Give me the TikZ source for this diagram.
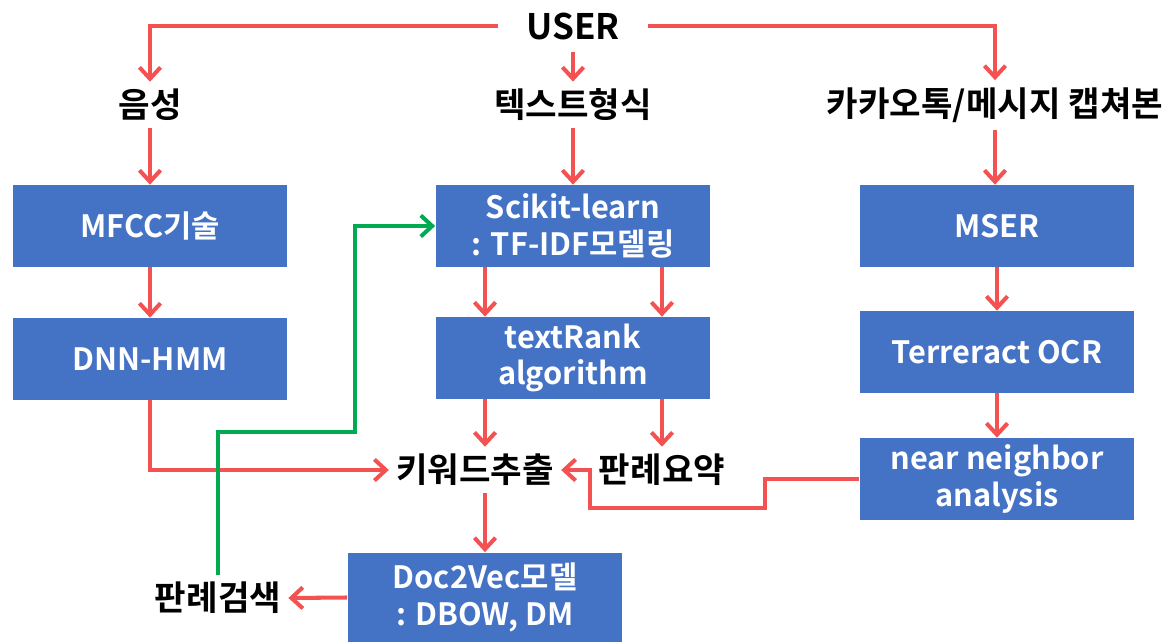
\documentclass[tikz,border=0pt]{standalone}
\usepackage{fontspec}
\setmainfont{Noto Sans CJK KR}[BoldFont={Noto Sans CJK KR Bold}]
\usetikzlibrary{arrows.meta}
\definecolor{boxblue}{RGB}{68,114,196}
\definecolor{flowred}{RGB}{244,82,82}
\definecolor{flowgreen}{RGB}{0,170,80}
\tikzset{
	stage/.style={fill=boxblue, text=white, font=\bfseries\fontsize{17.5}{21}\selectfont, minimum width=5.5cm, minimum height=1.64cm, align=center, inner sep=0pt},
	tag/.style={font=\bfseries\fontsize{19.5}{22}\selectfont, inner sep=4pt},
	flow/.style={draw=flowred, line width=2.3pt, -{Straight Barb[length=6.5pt,width=12pt]}},
	back/.style={flow, draw=flowgreen},
}
\begin{document}
\begin{tikzpicture}[x=0.02cm, y=-0.02cm]
	\useasboundingbox (0,0) rectangle (1174,642);
	\node[tag, font=\bfseries\fontsize{20}{24}\selectfont, inner xsep=0.55cm, inner ysep=0.25cm] (user) at (573,26) {USER};
	\node[tag] (voice) at (150,105) {음성};
	\node[tag] (text) at (573,105) {텍스트형식};
	\node[tag] (capture) at (995,105) {카카오톡/메시지 캡쳐본};
	\node[stage] (mfcc) at (150,226) {MFCC기술};
	\node[stage] (scikit) at (573,226) {Scikit-learn\\: TF-IDF모델링};
	\node[stage] (mser) at (997,226) {MSER};
	\node[stage] (dnn) at (150,359) {DNN-HMM};
	\node[stage] (textrank) at (573,358) {textRank\\algorithm};
	\node[stage] (ocr) at (997,352) {Terreract OCR};
	\node[stage] (nn) at (997,479) {near neighbor\\analysis};
	\node[tag] (keyword) at (475,470) {키워드추출};
	\node[tag] (summary) at (662,470) {판례요약};
	\node[stage, minimum height=1.8cm] (doc2vec) at (485,597.5) {Doc2Vec모델\\: DBOW, DM};
	\node[tag] (search) at (218,598) {판례검색};
	\coordinate (bendA) at (765,508);
	\coordinate (bendB) at (590,508);
	\coordinate (bendC) at (355,432);

	\draw[flow] (user.west) -| (voice.north);
	\draw[flow] (user.east) -| (capture.north);
	\draw[flow] (user) -- (text);
	\draw[flow] (voice) -- (mfcc);
	\draw[flow] (mfcc) -- (dnn);
	\draw[flow] (text) -- (scikit);
	\draw[flow] (capture) -- (capture |- mser.north);
	\draw[flow] (mser) -- (ocr);
	\draw[flow] (ocr) -- (nn);
	\draw[flow] (scikit.south -| doc2vec) -- (textrank.north -| doc2vec);
	\draw[flow] (scikit.south -| summary) -- (textrank.north -| summary);
	\draw[flow] (textrank.south -| doc2vec) -- (keyword.north -| doc2vec);
	\draw[flow] (textrank.south -| summary) -- (summary.north);
	\draw[flow] (keyword.south -| doc2vec) -- (doc2vec.north);
	\draw[flow] (dnn.south) |- (keyword.west);
	\draw[flow] (nn.west) -| (bendA) -- (bendB) |- (keyword.east);
	\draw[flow] (doc2vec.west) -- (search.east);
	\draw[back] (search.north) |- (bendC) |- (scikit.west);
\end{tikzpicture}
\end{document}
